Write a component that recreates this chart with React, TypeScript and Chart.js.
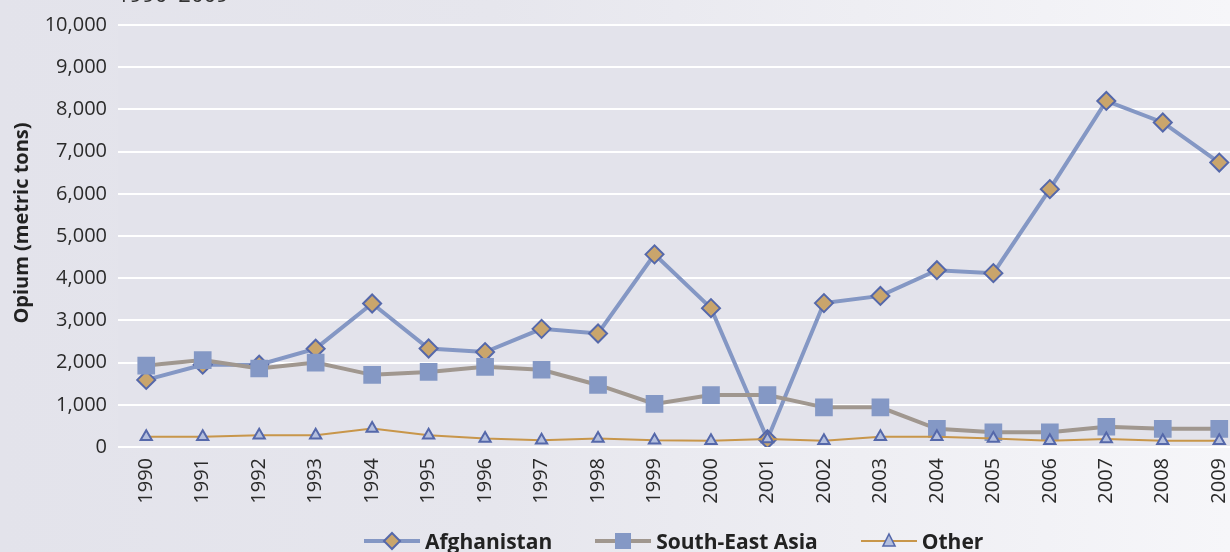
import React, { useEffect, useRef } from "react";
import { Chart, registerables } from "chart.js";

Chart.register(...registerables);

const years = ["1990","1991","1992","1993","1994","1995","1996","1997","1998","1999","2000","2001","2002","2003","2004","2005","2006","2007","2008","2009"];
const afghanistan = [1590, 1950, 1950, 2330, 3400, 2335, 2250, 2800, 2690, 4565, 3290, 185, 3410, 3580, 4190, 4120, 6110, 8200, 7690, 6740];
const southEastAsia = [1930, 2060, 1860, 2000, 1710, 1780, 1900, 1830, 1470, 1020, 1230, 1230, 940, 940, 430, 350, 350, 480, 430, 430];
const other = [240, 240, 280, 280, 440, 280, 200, 160, 200, 160, 150, 190, 150, 240, 240, 200, 150, 190, 150, 150];
const yTicks = [0, 1000, 2000, 3000, 4000, 5000, 6000, 7000, 8000, 9000, 10000];
const seriesNames = ["Afghanistan", "South-East Asia", "Other"];
const titleText = "1990–2009";
const yTitle = "Opium (metric tons)";

const AFG_LINE = "#8497c4";
const AFG_FILL = "#c9a56c";
const MARK_BORDER = "#5568aa";
const SEA_LINE = "#a0978f";
const SEA_FILL = "#8498c5";
const OTH_LINE = "#c8964a";
const OTH_FILL = "#b4bfde";

const OFFSET_TOP = 30;

const bgPlugin = {
  id: "bgPlugin",
  beforeDraw(chart: any) {
    const { ctx, chartArea } = chart;
    ctx.save();
    ctx.fillStyle = "#e3e3eb";
    ctx.fillRect(chartArea.left, chartArea.top, chartArea.right - chartArea.left, chartArea.bottom - chartArea.top);
    ctx.restore();
  },
  afterDraw(chart: any) {
    const { ctx, chartArea } = chart;
    ctx.save();
    ctx.fillStyle = "#333333";
    ctx.font = "22px 'Open Sans'";
    ctx.textBaseline = "alphabetic";
    ctx.textAlign = "left";
    ctx.fillText(titleText, chartArea.left - 1, OFFSET_TOP + 1.5);
    ctx.translate(22, 253);
    ctx.rotate(-Math.PI / 2);
    ctx.font = "bold 20px 'Open Sans'";
    ctx.fillStyle = "#222222";
    ctx.textAlign = "center";
    ctx.textBaseline = "middle";
    ctx.fillText(yTitle, 0, 0);
    ctx.restore();
  },
};

function LegendIcon({ kind }: { kind: number }) {
  if (kind === 0) {
    return (
      <svg width="56" height="22" style={{ display: "block" }}>
        <line x1="0" y1="11" x2="56" y2="11" stroke={AFG_LINE} strokeWidth="4" />
        <polygon points="28,3 36,11 28,19 20,11" fill={AFG_FILL} stroke={MARK_BORDER} strokeWidth="2" />
      </svg>
    );
  }
  if (kind === 1) {
    return (
      <svg width="56" height="22" style={{ display: "block" }}>
        <line x1="0" y1="11" x2="56" y2="11" stroke={SEA_LINE} strokeWidth="4" />
        <rect x="20" y="3" width="16" height="16" fill={SEA_FILL} />
      </svg>
    );
  }
  return (
    <svg width="56" height="22" style={{ display: "block" }}>
      <line x1="0" y1="11" x2="56" y2="11" stroke={OTH_LINE} strokeWidth="2" />
      <polygon points="28,4 34,16 22,16" fill={OTH_FILL} stroke={MARK_BORDER} strokeWidth="1.6" />
    </svg>
  );
}

export default function App() {
  const ref = useRef<HTMLCanvasElement | null>(null);

  useEffect(() => {
    if (!ref.current) return;
    const chart = new Chart(ref.current, {
      type: "line",
      data: {
        labels: years,
        datasets: [
          {
            label: seriesNames[0],
            data: afghanistan,
            borderColor: AFG_LINE,
            borderWidth: 4,
            pointStyle: "rectRot",
            pointRadius: 9,
            pointBackgroundColor: AFG_FILL,
            pointBorderColor: MARK_BORDER,
            pointBorderWidth: 2,
            tension: 0,
            order: 3,
          },
          {
            label: seriesNames[1],
            data: southEastAsia,
            borderColor: SEA_LINE,
            borderWidth: 4,
            pointStyle: "rect",
            pointRadius: 12.5,
            pointBackgroundColor: SEA_FILL,
            pointBorderColor: SEA_FILL,
            pointBorderWidth: 0,
            tension: 0,
            order: 2,
          },
          {
            label: seriesNames[2],
            data: other,
            borderColor: OTH_LINE,
            borderWidth: 2,
            pointStyle: "triangle",
            pointRadius: 6.5,
            pointBackgroundColor: OTH_FILL,
            pointBorderColor: MARK_BORDER,
            pointBorderWidth: 2,
            tension: 0,
            order: 1,
          },
        ],
      },
      options: {
        responsive: false,
        animation: false,
        maintainAspectRatio: false,
        layout: { padding: { top: OFFSET_TOP + 25, right: 10, left: 0, bottom: 0 } },
        plugins: {
          legend: { display: false },
          tooltip: { enabled: false },
          title: { display: false },
        },
        scales: {
          x: {
            offset: true,
            grid: { display: false, drawTicks: false },
            border: { display: false },
            ticks: {
              autoSkip: false,
              maxRotation: 90,
              minRotation: 90,
              padding: 11,
              color: "#2a2a2a",
              font: { family: "'Open Sans'", size: 20 },
            },
            afterFit(scale: any) {
              scale.height = 123;
            },
          },
          y: {
            min: 0,
            max: 10000,
            afterBuildTicks(scale: any) {
              scale.ticks = yTicks.map((v) => ({ value: v }));
            },
            grid: { color: "#ffffff", lineWidth: 2, drawTicks: false },
            border: { display: false },
            ticks: {
              padding: 11,
              color: "#2a2a2a",
              font: { family: "'Open Sans'", size: 20 },
              callback: (v: any) => Number(v).toLocaleString("en-US"),
            },
            afterFit(scale: any) {
              scale.width = 118;
            },
          },
        },
      },
      plugins: [bgPlugin],
    });
    return () => chart.destroy();
  }, []);

  return (
    <div
      style={{
        position: "fixed",
        left: 0,
        top: 0,
        width: 1230,
        height: 552,
        overflow: "hidden",
        background: "linear-gradient(to right, #e3e3eb 0%, #e6e6ed 40%, #eeeef3 70%, #f6f6f9 100%)",
      }}
    >
      <canvas
        ref={ref}
        width={1260}
        height={600}
        style={{ position: "absolute", left: 0, top: -OFFSET_TOP, width: 1260, height: 600 }}
      />
      <div
        style={{
          position: "absolute",
          left: 364,
          top: 529,
          display: "flex",
          alignItems: "center",
          fontFamily: "'Open Sans'",
          fontWeight: 700,
          fontSize: 21,
          color: "#222222",
          lineHeight: "24px",
          whiteSpace: "nowrap",
        }}
      >
        {seriesNames.map((name, i) => (
          <div key={name} style={{ display: "flex", alignItems: "center", marginRight: 43 }}>
            <LegendIcon kind={i} />
            <span style={{ marginLeft: 5 }}>{name}</span>
          </div>
        ))}
      </div>
    </div>
  );
}
